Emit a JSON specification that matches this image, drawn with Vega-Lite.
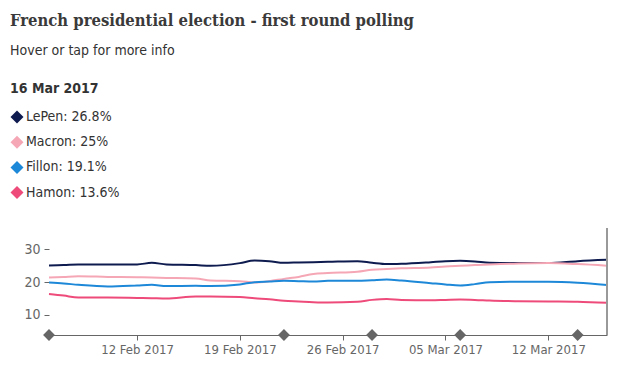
{
  "$schema": "https://vega.github.io/schema/vega-lite/v6.json",
  "width": 558,
  "height": 107,
  "autosize": "none",
  "padding": {"left": 49, "top": 228, "right": 15, "bottom": 33},
  "background": "white",
  "config": {"view": {"stroke": null}},
  "title": {
    "text": "French presidential election - first round polling",
    "subtitle": "Hover or tap for more info",
    "anchor": "start",
    "frame": "group",
    "dx": -39,
    "offset": 24,
    "font": "DejaVu Serif Condensed, DejaVu Serif",
    "fontSize": 16.5,
    "fontWeight": "bold",
    "color": "#3a3a3a",
    "subtitleFont": "DejaVu Sans Condensed, Roboto",
    "subtitleFontSize": 14,
    "subtitleColor": "#333333",
    "subtitlePadding": 15
  },
  "datasets": {
    "polls": [
      {"date": "2017-02-06", "LePen": 25.1, "Macron": 21.4, "Fillon": 19.9, "Hamon": 16.4},
      {"date": "2017-02-07", "LePen": 25.2, "Macron": 21.6, "Fillon": 19.6, "Hamon": 15.9},
      {"date": "2017-02-08", "LePen": 25.4, "Macron": 21.8, "Fillon": 19.2, "Hamon": 15.3},
      {"date": "2017-02-10", "LePen": 25.4, "Macron": 21.6, "Fillon": 18.7, "Hamon": 15.3},
      {"date": "2017-02-12", "LePen": 25.4, "Macron": 21.5, "Fillon": 19.0, "Hamon": 15.2},
      {"date": "2017-02-13", "LePen": 25.9, "Macron": 21.4, "Fillon": 19.2, "Hamon": 15.1},
      {"date": "2017-02-14", "LePen": 25.4, "Macron": 21.3, "Fillon": 18.8, "Hamon": 15.0},
      {"date": "2017-02-16", "LePen": 25.2, "Macron": 21.1, "Fillon": 18.9, "Hamon": 15.6},
      {"date": "2017-02-17", "LePen": 25.0, "Macron": 20.5, "Fillon": 18.8, "Hamon": 15.6},
      {"date": "2017-02-19", "LePen": 25.8, "Macron": 20.3, "Fillon": 19.3, "Hamon": 15.5},
      {"date": "2017-02-20", "LePen": 26.6, "Macron": 19.9, "Fillon": 20.0, "Hamon": 15.1},
      {"date": "2017-02-21", "LePen": 26.4, "Macron": 20.3, "Fillon": 20.2, "Hamon": 14.8},
      {"date": "2017-02-22", "LePen": 25.9, "Macron": 21.0, "Fillon": 20.4, "Hamon": 14.3},
      {"date": "2017-02-23", "LePen": 26.0, "Macron": 21.6, "Fillon": 20.3, "Hamon": 14.1},
      {"date": "2017-02-24", "LePen": 26.1, "Macron": 22.5, "Fillon": 20.2, "Hamon": 13.9},
      {"date": "2017-02-25", "LePen": 26.2, "Macron": 22.8, "Fillon": 20.4, "Hamon": 13.8},
      {"date": "2017-02-27", "LePen": 26.4, "Macron": 23.2, "Fillon": 20.4, "Hamon": 14.0},
      {"date": "2017-02-28", "LePen": 25.9, "Macron": 23.8, "Fillon": 20.6, "Hamon": 14.6},
      {"date": "2017-03-01", "LePen": 25.5, "Macron": 24.0, "Fillon": 20.8, "Hamon": 14.9},
      {"date": "2017-03-02", "LePen": 25.6, "Macron": 24.2, "Fillon": 20.5, "Hamon": 14.6},
      {"date": "2017-03-04", "LePen": 26.1, "Macron": 24.5, "Fillon": 19.7, "Hamon": 14.5},
      {"date": "2017-03-05", "LePen": 26.4, "Macron": 24.8, "Fillon": 19.3, "Hamon": 14.6},
      {"date": "2017-03-06", "LePen": 26.5, "Macron": 25.0, "Fillon": 19.0, "Hamon": 14.7},
      {"date": "2017-03-07", "LePen": 26.3, "Macron": 25.2, "Fillon": 19.4, "Hamon": 14.6},
      {"date": "2017-03-08", "LePen": 25.9, "Macron": 25.4, "Fillon": 20.0, "Hamon": 14.4},
      {"date": "2017-03-10", "LePen": 25.8, "Macron": 25.7, "Fillon": 20.1, "Hamon": 14.2},
      {"date": "2017-03-12", "LePen": 25.8, "Macron": 25.8, "Fillon": 20.1, "Hamon": 14.1},
      {"date": "2017-03-14", "LePen": 26.4, "Macron": 25.5, "Fillon": 19.8, "Hamon": 14.0},
      {"date": "2017-03-16", "LePen": 26.8, "Macron": 25.0, "Fillon": 19.1, "Hamon": 13.7}
    ],
    "events": [
      {"date": "2017-02-06", "base": 3.9},
      {"date": "2017-02-22", "base": 3.9},
      {"date": "2017-02-28", "base": 3.9},
      {"date": "2017-03-06", "base": 3.9},
      {"date": "2017-03-14", "base": 3.9}
    ],
    "hover": [{"date": "2017-03-16"}]
  },
  "layer": [
    {
      "data": {"name": "polls"},
      "transform": [{"fold": ["LePen", "Macron", "Fillon", "Hamon"], "as": ["candidate", "pct"]}],
      "mark": {"type": "line", "interpolate": "monotone", "strokeWidth": 2},
      "encoding": {
        "x": {
          "field": "date", "type": "temporal",
          "scale": {"type": "utc", "nice": false},
          "axis": {
            "title": null,
            "labelExpr": "utcFormat(datum.value, '%d %b %Y')",
            "values": [{"year": 2017, "month": 2, "date": 12, "utc": true}, {"year": 2017, "month": 2, "date": 19, "utc": true}, {"year": 2017, "month": 2, "date": 26, "utc": true}, {"year": 2017, "month": 3, "date": 5, "utc": true}, {"year": 2017, "month": 3, "date": 12, "utc": true}],
            "grid": false,
            "domainColor": "#666666",
            "tickColor": "#666666",
            "tickSize": 5,
            "labelFont": "DejaVu Sans Condensed, Roboto",
            "labelFontSize": 13,
            "labelColor": "#666666",
            "labelPadding": 3
          }
        },
        "y": {
          "field": "pct", "type": "quantitative",
          "scale": {"domain": [3.9, 36.5], "nice": false, "zero": false},
          "axis": {
            "title": null,
            "values": [10, 20, 30],
            "grid": false,
            "domain": false,
            "tickColor": "#666666",
            "tickSize": 5,
            "labelFont": "DejaVu Sans Condensed, Roboto",
            "labelFontSize": 14,
            "labelColor": "#666666",
            "labelPadding": 4
          }
        },
        "color": {
          "field": "candidate", "type": "nominal",
          "scale": {"domain": ["LePen", "Macron", "Fillon", "Hamon"], "range": ["#0e1b4f", "#f6a7b6", "#1e88d8", "#ee4b7b"]},
          "legend": {
            "orient": "none",
            "legendX": -39,
            "legendY": -146,
            "title": "16 Mar 2017",
            "titleFont": "DejaVu Sans Condensed, Roboto",
            "titleFontSize": 14,
            "titleFontWeight": "bold",
            "titleColor": "#333333",
            "titlePadding": 14,
            "symbolType": "diamond",
            "symbolSize": 170,
            "symbolStrokeWidth": 0,
            "labelFont": "DejaVu Sans Condensed, Roboto",
            "labelFontSize": 14,
            "labelColor": "#333333",
            "labelOffset": 2,
            "rowPadding": 11.2,
            "labelExpr": "datum.label == 'LePen' ? 'LePen: 26.8%' : datum.label == 'Macron' ? 'Macron: 25%' : datum.label == 'Fillon' ? 'Fillon: 19.1%' : 'Hamon: 13.6%'",
            "encode": {"symbols": {"update": {"fill": {"scale": "color", "field": "value"}, "opacity": {"value": 1}}}}
          }
        }
      }
    },
    {
      "data": {"name": "hover"},
      "mark": {"type": "rule", "color": "#999999", "strokeWidth": 2},
      "encoding": {"x": {"field": "date", "type": "temporal"}}
    },
    {
      "data": {"name": "events"},
      "mark": {"type": "point", "shape": "diamond", "filled": true, "size": 140, "color": "#666666", "opacity": 1},
      "encoding": {
        "x": {"field": "date", "type": "temporal"},
        "y": {"field": "base", "type": "quantitative"}
      }
    }
  ]
}
